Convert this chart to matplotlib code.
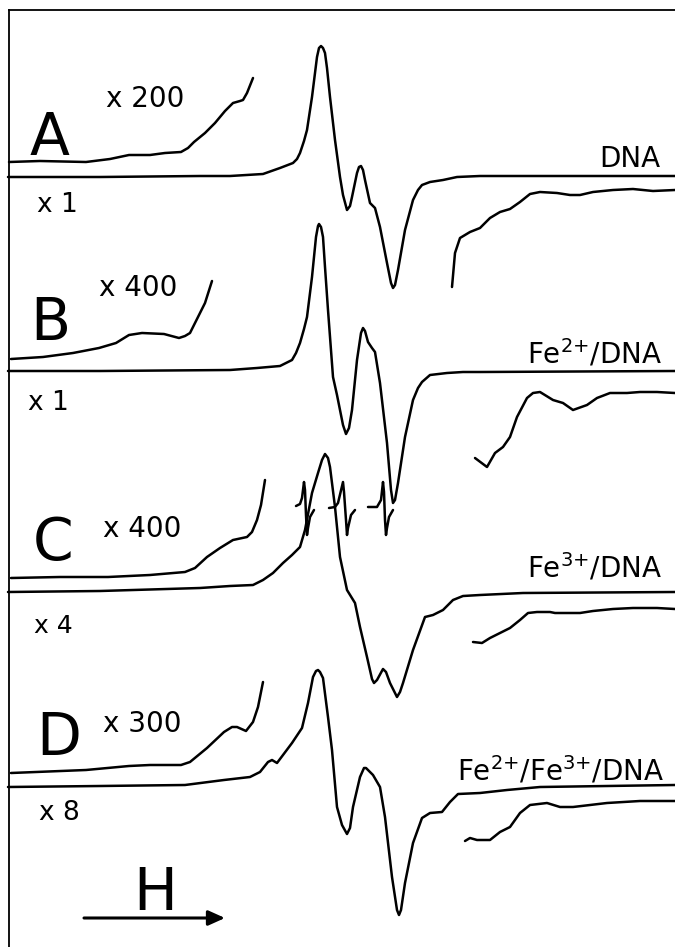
import numpy as np
import matplotlib
matplotlib.use("Agg")
import matplotlib.pyplot as plt

plt.rcParams['font.family'] = ['DejaVu Sans']
plt.rcParams['mathtext.default'] = 'regular'

# ---------------- data (field position, signal relative to panel baseline) ----------------
# Panel A : DNA
A_main_x = [8, 100, 200, 230, 263, 280, 293, 297, 300, 304, 307, 312, 315, 317, 319, 321, 323, 325, 327, 330,
            335, 340, 343, 347, 350, 352, 357, 359, 361, 363, 365, 370, 375, 380, 387, 391, 393, 395, 398, 405,
            413, 418, 422, 430, 443, 457, 480, 675]
A_main_y = [-1, -1, 0, 0, 2, 8, 13, 17, 23, 35, 46, 79, 103, 119, 128, 130, 128, 123, 108, 79,
            36, -1, -19, -34, -30, -21, 3, 9, 10, 6, -4, -27, -32, -51, -87, -107, -112, -109, -94, -54,
            -24, -14, -9, -6, -4, -1, 0, 0]
A_left_x = [9, 40, 86, 110, 129, 150, 165, 181, 188, 194, 205, 215, 225, 233, 240, 243, 247, 253]
A_left_y = [14, 15, 14, 17, 21, 21, 23, 24, 28, 34, 43, 53, 65, 73, 75, 76, 83, 98]
A_right_x = [452, 455, 460, 470, 480, 490, 500, 510, 520, 530, 540, 557, 570, 580, 593, 613, 633, 653, 675]
A_right_y = [-111, -77, -62, -56, -52, -42, -36, -33, -26, -18, -16, -17, -19, -19, -16, -14, -13, -15, -14]

# Panel B : Fe2+/DNA
B_main_x = [8, 100, 230, 257, 280, 292, 296, 300, 304, 307, 312, 316, 318, 319, 321, 323, 325, 328, 333, 337,
            340, 343, 346, 349, 352, 357, 361, 363, 365, 368, 372, 375, 380, 387, 391, 393, 395, 398, 405, 413,
            418, 422, 430, 447, 463, 480, 675]
B_main_y = [-1, -1, 0, 2, 4, 10, 17, 27, 41, 53, 93, 133, 144, 146, 143, 133, 103, 60, -7, -25,
            -40, -55, -64, -58, -40, 10, 37, 42, 39, 28, 22, 18, -13, -73, -120, -133, -130, -113, -67, -30,
            -18, -12, -5, -3, -2, -2, -1]
B_left_x = [11, 43, 73, 99, 116, 129, 142, 164, 179, 185, 190, 198, 205, 212]
B_left_y = [11, 13, 17, 22, 27, 35, 37, 36, 32, 34, 37, 53, 67, 89]
B_right_x = [475, 487, 495, 503, 510, 517, 527, 533, 540, 553, 563, 573, 587, 597, 610, 627, 640, 657, 675]
B_right_y = [-88, -97, -83, -77, -67, -47, -28, -23, -22, -30, -33, -40, -35, -28, -23, -23, -22, -22, -23]

# Panel C : Fe3+/DNA
C_main_x = [8, 100, 200, 230, 253, 263, 273, 283, 292, 300, 305, 312, 318, 322, 325, 328, 330, 335, 340, 347,
            355, 360, 367, 372, 374, 377, 383, 386, 390, 397, 400, 403, 413, 425, 433, 443, 453, 463, 480, 523,
            675]
C_main_y = [0, 1, 4, 6, 7, 12, 19, 29, 37, 45, 62, 99, 119, 132, 138, 134, 125, 85, 35, 2,
            -11, -35, -65, -87, -91, -88, -77, -80, -91, -105, -100, -91, -58, -25, -23, -18, -8, -4, -3, -1,
            0]
C_left_x = [11, 60, 108, 150, 185, 195, 207, 220, 233, 247, 252, 257, 261, 265]
C_left_y = [14, 15, 15, 17, 20, 24, 35, 44, 52, 55, 60, 72, 87, 112]
C_line1_x = [296, 300, 302, 304, 305, 306, 307, 308, 310, 314]
C_line1_y = [86, 88, 94, 110, 102, 77, 57, 64, 75, 82]
C_line2_x = [329, 335, 338, 343, 344, 346, 347, 348, 351, 355]
C_line2_y = [84, 85, 89, 110, 100, 72, 57, 64, 77, 82]
C_line3_x = [368, 377, 381, 383, 384, 385, 386, 387, 389, 393]
C_line3_y = [85, 85, 92, 110, 100, 72, 57, 64, 75, 82]
C_right_x = [473, 482, 490, 500, 510, 520, 528, 537, 550, 555, 580, 593, 613, 633, 657, 675]
C_right_y = [-50, -51, -46, -41, -36, -28, -21, -20, -20, -21, -21, -19, -17, -16, -16, -17]

# Panel D : Fe2+/Fe3+/DNA
D_main_x = [8, 100, 185, 224, 250, 260, 268, 272, 277, 283, 292, 302, 308, 313, 316, 318, 320, 323, 328, 332,
            337, 342, 347, 350, 353, 360, 364, 366, 373, 380, 385, 392, 397, 399, 401, 405, 413, 422, 430, 442,
            450, 458, 480, 507, 540, 607, 675]
D_main_y = [-2, -1, 0, 5, 8, 13, 23, 25, 22, 30, 42, 57, 82, 108, 114, 115, 113, 107, 68, 35,
            -22, -40, -49, -43, -22, 8, 17, 17, 10, -2, -32, -92, -125, -130, -125, -98, -58, -33, -28, -27,
            -17, -9, -8, -5, -2, -1, 0]
D_left_x = [11, 86, 129, 150, 181, 190, 207, 224, 232, 237, 246, 253, 258, 263]
D_left_y = [12, 15, 19, 20, 20, 23, 37, 53, 58, 58, 54, 63, 78, 103]
D_right_x = [465, 470, 477, 490, 500, 510, 520, 530, 547, 560, 573, 590, 607, 640, 675]
D_right_y = [-56, -53, -55, -55, -47, -42, -28, -20, -18, -22, -22, -20, -18, -16, -16]

panel_letters = ['A', 'B', 'C', 'D']
sample_labels = ['DNA', 'Fe$^{2{+}}$/DNA', 'Fe$^{3{+}}$/DNA', 'Fe$^{2{+}}$/Fe$^{3{+}}$/DNA']
gain_high = ['x 200', 'x 400', 'x 400', 'x 300']
gain_low = ['x 1', 'x 1', 'x 4', 'x 8']

# ---------------- layout ----------------
W, H = 675, 947
fig = plt.figure(figsize=(W / 100, H / 100), dpi=100)
ax = fig.add_axes([0, 0, 1, 1])
ax.set_xlim(0, W)
ax.set_ylim(0, H)
ax.axis('off')

offsets = [771, 577, 355, 162]
lw = 1.8
col = 'black'

traces = [
    [(A_main_x, A_main_y), (A_left_x, A_left_y), (A_right_x, A_right_y)],
    [(B_main_x, B_main_y), (B_left_x, B_left_y), (B_right_x, B_right_y)],
    [(C_main_x, C_main_y), (C_left_x, C_left_y), (C_right_x, C_right_y),
     (C_line1_x, C_line1_y), (C_line2_x, C_line2_y), (C_line3_x, C_line3_y)],
    [(D_main_x, D_main_y), (D_left_x, D_left_y), (D_right_x, D_right_y)],
]
for off, group in zip(offsets, traces):
    for xs, ys in group:
        ax.plot(xs, np.asarray(ys) + off, color=col, lw=lw, solid_joinstyle='round', solid_capstyle='round')

# frame (left and top only)
ax.plot([9, 9], [0, 937], color=col, lw=1.3)
ax.plot([9, 675], [937, 937], color=col, lw=1.3)

# text
letter_pos = [(30, 792), (30, 607), (33, 387), (36, 192)]
hi_pos = [(106, 840), (99, 651), (103, 410), (103, 215)]
lo_pos = [(37, 735), (28, 537), (34, 314), (39, 127)]
lab_pos = [(660, 780), (662, 584), (662, 370), (664, 167)]
for i in range(4):
    ax.text(*letter_pos[i], panel_letters[i], fontsize=42, ha='left', va='baseline')
    ax.text(*hi_pos[i], gain_high[i], fontsize=20, ha='left', va='baseline')
    ax.text(*lo_pos[i], gain_low[i], fontsize=19 if i != 2 else 18, ha='left', va='baseline')
    ax.text(*lab_pos[i], sample_labels[i], fontsize=20, ha='right', va='baseline')

# field arrow
ax.text(133, 37, 'H', fontsize=42, ha='left', va='baseline')
ax.annotate('', xy=(225, 29), xytext=(84, 29),
            arrowprops=dict(arrowstyle='-|>,head_length=1.0,head_width=0.45', color=col, lw=2.2,
                            shrinkA=0, shrinkB=0))

fig.savefig('out.png', dpi=100, facecolor='white')
